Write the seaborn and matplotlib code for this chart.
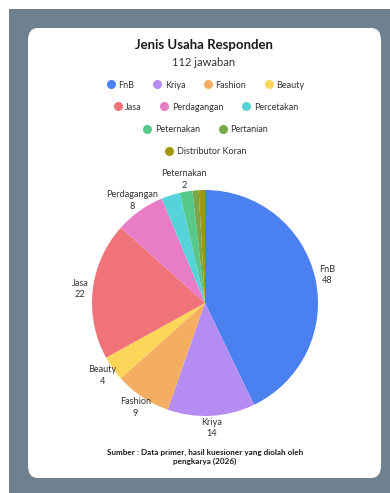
"""
Jenis Usaha Responden - pie chart
"""

import matplotlib
matplotlib.use("Agg")
import matplotlib.pyplot as plt
from matplotlib.lines import Line2D
from matplotlib.patches import FancyBboxPatch, Rectangle
import seaborn as sns

# --- Data ---
categories = ["FnB", "Kriya", "Fashion", "Beauty", "Jasa", "Perdagangan",
              "Percetakan", "Peternakan", "Pertanian", "Distributor Koran"]
counts = [48, 14, 9, 4, 22, 8, 3, 2, 1, 1]
show_label = [True, True, True, True, True, True, False, True, False, False]
colors = ["#4a80f0", "#b48cf2", "#f5ad62", "#fcd659", "#f0737a", "#e87cc7",
          "#55d3d8", "#56c98a", "#76a84a", "#a0980e"]
legend_rows = [["FnB", "Kriya", "Fashion", "Beauty"],
               ["Jasa", "Perdagangan", "Percetakan"],
               ["Peternakan", "Pertanian"],
               ["Distributor Koran"]]

sns.set_theme(style="white")
plt.rcParams["font.family"] = ["Lato", "DejaVu Sans"]

W, H = 390, 493
fig = plt.figure(figsize=(W / 100, H / 100), dpi=100)
fig.patch.set_facecolor("white")

# background panel and card
fig.patches.append(Rectangle((9 / W, 0), 1, 1 - 9 / H, transform=fig.transFigure,
                             facecolor="#6f808f", edgecolor="none", zorder=0))
fig.patches.append(FancyBboxPatch((28 / W, 1 - 478 / H), (381 - 28) / W, (478 - 28) / H,
                                  boxstyle="round,pad=0,rounding_size=0.025",
                                  transform=fig.transFigure, facecolor="white",
                                  edgecolor="none", zorder=1))

# --- Titles ---
fig.text(204 / W, 1 - 45 / H, "Jenis Usaha Responden", ha="center", va="center",
         fontsize=9.5, fontweight="bold", color="#1a1a1a")
fig.text(204 / W, 1 - 62 / H, f"{sum(counts)} jawaban", ha="center", va="center",
         fontsize=8, color="#333333")

# --- Legend rows ---
palette = dict(zip(categories, sns.color_palette(colors)))
row_y = [85, 107, 130, 152]
for row, y in zip(legend_rows, row_y):
    handles = [Line2D([], [], marker="o", linestyle="", markersize=6.5,
                      markerfacecolor=palette[c], markeredgecolor="none") for c in row]
    leg = fig.legend(handles, row, loc="center", bbox_to_anchor=(205 / W, 1 - y / H),
                     ncol=len(row), frameon=False, fontsize=6.5, handletextpad=0.25,
                     columnspacing=1.9, handlelength=1.2, borderaxespad=0)
    for t in leg.get_texts():
        t.set_color("#333333")
    leg.set_zorder(3)

# --- Pie ---
cx, cy, r = 205, 303, 113
ax = fig.add_axes([(cx - r) / W, 1 - (cy + r) / H, 2 * r / W, 2 * r / H])
ax.set_zorder(2)
ax.patch.set_alpha(0)
labels = [f"{c}\n{v}" if s else "" for c, v, s in zip(categories, counts, show_label)]
wedges, texts = ax.pie(counts, labels=labels, colors=[palette[c] for c in categories],
                       startangle=90, counterclock=False, labeldistance=1.11,
                       radius=1, wedgeprops=dict(linewidth=0),
                       textprops=dict(fontsize=6.6, color="#333333",
                                      va="center", linespacing=1.35))
for t in texts:
    t.set_ha("center")
ax.set_xlim(-1, 1)
ax.set_ylim(-1, 1)
ax.set_aspect("equal")
ax.axis("off")

# --- Source note ---
fig.text(205 / W, 1 - 457 / H,
         "Sumber : Data primer, hasil kuesioner yang diolah oleh\npengkarya (2026)",
         ha="center", va="center", fontsize=5.9, fontweight="bold",
         color="#1a1a1a", linespacing=1.4, zorder=3)

fig.savefig("out.png", dpi=100, facecolor=fig.get_facecolor())
